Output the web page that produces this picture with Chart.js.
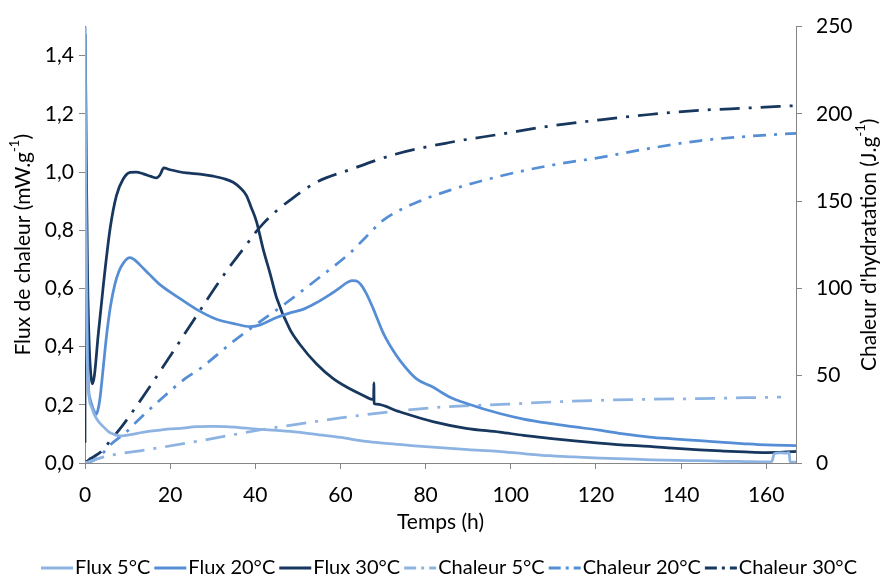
<!DOCTYPE html>
<html><head><meta charset="utf-8">
<script src="https://cdn.jsdelivr.net/npm/chart.js@4.4.1/dist/chart.umd.min.js"></script>
<style>html,body{margin:0;padding:0;background:#fff;}#wrap{width:880px;height:579px;}</style>
</head><body><div id="wrap"><canvas id="c" width="880" height="579"></canvas></div>
<script>
// ---- DATA ----
const xTickLabels = [0, 20, 40, 60, 80, 100, 120, 140, 160];
const seriesLabels = ['Flux 5°C', 'Flux 20°C', 'Flux 30°C', 'Chaleur 5°C', 'Chaleur 20°C', 'Chaleur 30°C'];

const flux5Time = [0,0.2,0.4,0.7,1.0,1.6,2.4,3.3,4.3,5.5,6.6,8.2,10,12,14.5,17.6,20,22.3,26.2,30,33.2,37,41,45,50,55,60,66,70,75,80,85,90,97,103,109,115,121,127,133,139,144,150,155,160,161.3,161.9,163,164.6,165.4,165.6,167];
const flux5Values = [1.50,0.85,0.45,0.28,0.22,0.19,0.16,0.14,0.125,0.108,0.100,0.093,0.096,0.101,0.108,0.113,0.117,0.119,0.125,0.126,0.125,0.121,0.116,0.112,0.106,0.097,0.088,0.074,0.068,0.062,0.056,0.051,0.046,0.040,0.032,0.025,0.021,0.017,0.014,0.011,0.009,0.008,0.006,0.005,0.004,0.005,0.032,0.035,0.034,0.036,0.003,0.003];

const flux20Time = [0,0.3,0.6,0.8,1.2,1.6,2.1,2.6,3.0,3.5,4.3,5.1,6.0,7.0,8.0,9.0,10.0,10.6,11.5,12.9,15,17.6,21.5,26.2,30.9,35.6,38.7,41,45,48,51.2,54,57.5,60,61.5,62.7,63.7,64.7,66,67.6,70,72,74,77.8,81.7,85.6,90,97.4,103,109.1,115,120.8,126,132.6,138,144.3,150,155,160,167];
const flux20Values = [1.50,0.80,0.40,0.27,0.22,0.20,0.18,0.167,0.18,0.22,0.33,0.443,0.54,0.613,0.66,0.687,0.703,0.706,0.700,0.681,0.650,0.613,0.573,0.528,0.494,0.477,0.469,0.474,0.500,0.515,0.528,0.548,0.579,0.604,0.620,0.627,0.626,0.615,0.585,0.534,0.448,0.395,0.352,0.290,0.261,0.227,0.203,0.170,0.151,0.136,0.124,0.113,0.101,0.089,0.083,0.077,0.071,0.066,0.062,0.060];

const flux30Time = [0,0.05,0.3,0.6,1.0,1.4,1.7,2.2,3.1,4.3,5.9,7.4,9.0,10.6,12,13.7,15.5,16.8,17.6,18.5,20,23.8,27,30.1,32.5,34.8,36.5,37.9,39,40.3,41.8,43.5,45,48.1,50.4,54.4,58.3,62.2,65,67.8,67.85,67.9,68.4,73.9,81.7,89.5,97.4,103,109.1,115,120.8,126,132.6,138,144.3,150,155,159.9,164,167];
const flux30Values = [0.07,1.47,1.05,0.65,0.40,0.30,0.272,0.30,0.44,0.61,0.806,0.92,0.977,0.999,1.000,0.994,0.985,0.980,0.99,1.014,1.008,0.997,0.993,0.986,0.978,0.965,0.945,0.92,0.88,0.829,0.738,0.65,0.568,0.46,0.409,0.34,0.29,0.255,0.235,0.218,0.275,0.205,0.202,0.176,0.142,0.119,0.106,0.095,0.085,0.076,0.068,0.062,0.057,0.051,0.045,0.041,0.038,0.036,0.037,0.040];

const heat5Time = [0,3.5,6.6,14.5,27,41,52,60,73.9,85,99.3,110,120.8,132,144.3,155,163.5];
const heat5Values = [0,2.8,4.7,7.6,12.7,18.9,23,25.8,29.9,32.2,33.7,35,35.9,36.5,36.9,37.4,37.8];

const heat20Time = [0,2,3.5,5.5,9.8,12.1,18,23.5,27,35,40.3,47.3,55.9,62.2,66,70,75.5,85.6,98.1,109.1,120.8,132,144.3,155,167];
const heat20Values = [0,1.5,3.7,9.4,18,23.6,36.9,48.3,54,70,79.5,91.8,107.9,120.2,129.5,139,146.7,156.2,164.7,170.4,175,180,184.6,187,188.9];

const heat30Time = [0,1,2,4,6,8.2,12.5,18.8,25.4,33.2,37.9,40.2,41.8,45,48.1,54.4,62.2,73.1,85.6,97.4,109.1,120.8,132,144.3,155,167];
const heat30Values = [0,2,3.5,7,13,19.5,34,56.8,81.4,109.8,125,132.5,137,144.5,150.5,160.9,168,177,183.6,188.3,193,196.5,199.5,202,203.3,204.7];

// ---- STYLE ----
const FONT = "Lato, 'Open Sans', sans-serif";
const FS = 21;
const LFS = 20;
const C5 = '#8DB3E2', C20 = '#558ED5', C30 = '#17375E';
const AXIS = '#868686';
const pts = (xs, ys) => xs.map((x, i) => ({x: x, y: ys[i]}));

function mk(label, xs, ys, color, dash, axis) {
  return {label: label, data: pts(xs, ys), borderColor: color, backgroundColor: color,
    borderWidth: 2.75, borderDash: dash, pointRadius: 0, fill: false, yAxisID: axis,
    cubicInterpolationMode: 'monotone', borderCapStyle: 'butt'};
}
const datasets = [
  mk(seriesLabels[0], flux5Time, flux5Values, C5, [], 'y'),
  mk(seriesLabels[1], flux20Time, flux20Values, C20, [], 'y'),
  mk(seriesLabels[2], flux30Time, flux30Values, C30, [], 'y'),
  mk(seriesLabels[3], heat5Time, heat5Values, C5, [20, 9, 3, 9], 'y1'),
  mk(seriesLabels[4], heat20Time, heat20Values, C20, [13, 8, 3, 8], 'y1'),
  mk(seriesLabels[5], heat30Time, heat30Values, C30, [20, 9, 3, 9], 'y1')
];

function drawRich(ctx, x, y, parts, rot) {
  ctx.save();
  ctx.translate(x, y);
  if (rot) ctx.rotate(rot);
  const big = FS + 'px ' + FONT, small = Math.round(FS * 0.62) + 'px ' + FONT;
  let total = 0;
  parts.forEach(p => { ctx.font = p.sup ? small : big; p.w = ctx.measureText(p.t).width; total += p.w; });
  let cx = -total / 2;
  ctx.fillStyle = '#000';
  ctx.textBaseline = 'middle';
  ctx.textAlign = 'left';
  parts.forEach(p => {
    ctx.font = p.sup ? small : big;
    ctx.fillText(p.t, cx, p.sup ? -FS * 0.38 : 0);
    cx += p.w;
  });
  ctx.restore();
}

const decor = {
  id: 'decor',
  afterDraw(chart) {
    const ctx = chart.ctx;
    const area = chart.chartArea;
    drawRich(ctx, (area.left + area.right) / 2, 522, [{t: 'Temps (h)'}], 0);
    drawRich(ctx, 23, (area.top + area.bottom) / 2, [{t: 'Flux de chaleur (mW.g'}, {t: '-1', sup: true}, {t: ')'}], -Math.PI / 2);
    drawRich(ctx, 869, (area.top + area.bottom) / 2, [{t: "Chaleur d'hydratation (J.g"}, {t: '-1', sup: true}, {t: ')'}], -Math.PI / 2);
    ctx.save();
    ctx.font = LFS + 'px ' + FONT;
    const sw = 32, gap = 2, sp = 4;
    const items = chart.data.datasets.map(d => ({d: d, w: sw + gap + ctx.measureText(d.label).width}));
    const totalW = items.reduce((a, b) => a + b.w, 0) + sp * (items.length - 1);
    let x = 449 - totalW / 2;
    const y = 568;
    items.forEach(it => {
      ctx.strokeStyle = it.d.borderColor;
      ctx.lineWidth = 3;
      ctx.setLineDash(it.d.borderDash.length ? [12, 5, 3, 5] : []);
      ctx.beginPath(); ctx.moveTo(x, y); ctx.lineTo(x + sw, y); ctx.stroke();
      ctx.setLineDash([]);
      ctx.fillStyle = '#000'; ctx.textBaseline = 'middle'; ctx.textAlign = 'left';
      ctx.fillText(it.d.label, x + sw + gap, y);
      x += it.w + sp;
    });
    ctx.restore();
  }
};

const tickFont = {family: FONT, size: FS};
new Chart(document.getElementById('c'), {
  type: 'line',
  data: {datasets: datasets},
  plugins: [decor],
  options: {
    responsive: false, animation: false, devicePixelRatio: 1,
    layout: {padding: {top: 23, left: 0, right: 0, bottom: 0}},
    plugins: {legend: {display: false}, tooltip: {enabled: false}},
    scales: {
      x: {type: 'linear', position: 'bottom', min: 0, max: 167,
        ticks: {stepSize: 20, font: tickFont, color: '#000', padding: 14, maxRotation: 0},
        afterBuildTicks: s => { s.ticks = xTickLabels.map(v => ({value: v})); },
        afterFit: s => { s.height = 116; },
        grid: {drawOnChartArea: false, drawTicks: true, tickLength: 6, color: AXIS},
        border: {color: AXIS, width: 1}},
      y: {type: 'linear', position: 'left', min: 0, max: 1.5,
        ticks: {stepSize: 0.2, font: tickFont, color: '#000', padding: 5,
          callback: v => v.toFixed(1).replace('.', ',')},
        afterBuildTicks: s => { s.ticks = s.ticks.filter(t => t.value < 1.45); },
        afterFit: s => { s.width = 85; },
        grid: {drawOnChartArea: false, drawTicks: true, tickLength: 6, color: AXIS},
        border: {color: AXIS, width: 1}},
      y1: {type: 'linear', position: 'right', min: 0, max: 250,
        ticks: {stepSize: 50, font: tickFont, color: '#000', padding: 14},
        afterFit: s => { s.width = 84; },
        grid: {drawOnChartArea: false, drawTicks: true, tickLength: 6, color: AXIS},
        border: {color: AXIS, width: 1}}
    }
  }
});
</script></body></html>
